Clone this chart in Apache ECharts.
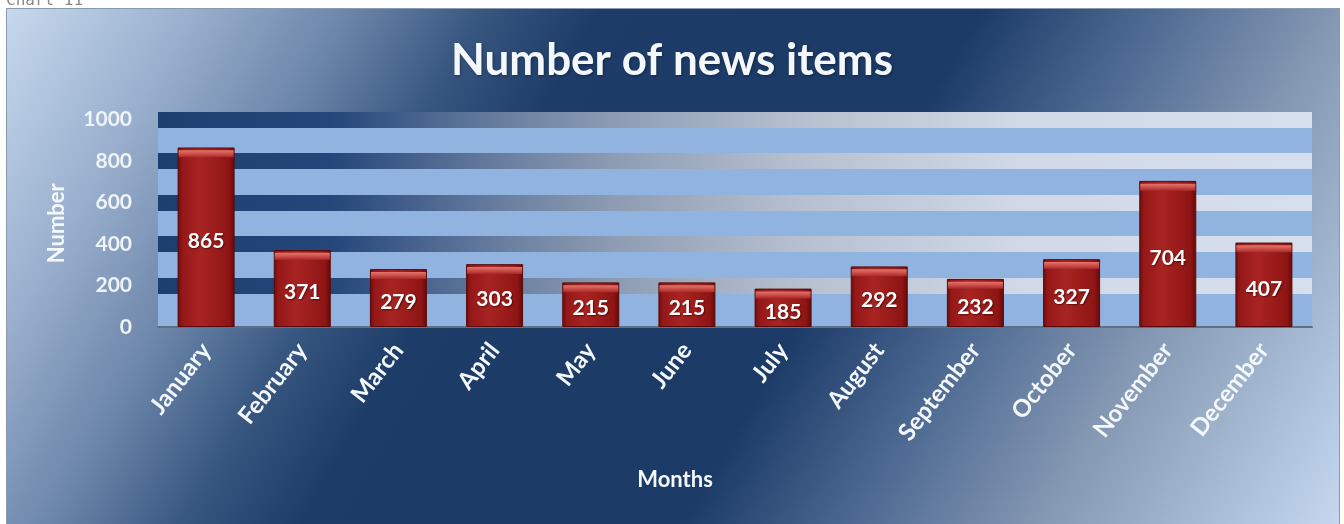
<!DOCTYPE html>
<html>
<head>
<meta charset="utf-8">
<script src="https://cdn.jsdelivr.net/npm/echarts@6/dist/echarts.min.js"></script>
<style>
html,body{margin:0;padding:0;background:#fff;}
#chart{width:1344px;height:524px;}
</style>
</head>
<body>
<div id="chart"></div>
<script>
var months = ['January','February','March','April','May','June','July','August','September','October','November','December'];
var newsCounts = [865, 371, 279, 303, 215, 215, 185, 292, 232, 327, 704, 407];
var yTicks = [0, 200, 400, 600, 800, 1000];
var chartTitle = 'Number of news items';
var xName = 'Months';
var yName = 'Number';

var chart = echarts.init(document.getElementById('chart'), null, {renderer: 'canvas'});
var FONT = 'Lato';

var bgGrad = {
  type: 'linear', global: true, x: 0, y: 0, x2: 1225, y2: 713,
  colorStops: [
    {offset: 0, color: '#c9dbef'},
    {offset: 0.12, color: '#9ab0ce'},
    {offset: 0.22, color: '#6a84a8'},
    {offset: 0.3, color: '#36557f'},
    {offset: 0.37, color: '#1d3c68'},
    {offset: 0.6, color: '#1b3a66'},
    {offset: 0.7, color: '#4a6790'},
    {offset: 0.82, color: '#8598b3'},
    {offset: 1, color: '#c4d7ef'}
  ]
};

var stripeGrad = {
  type: 'linear', global: true, x: 158, y: 0, x2: 1312, y2: 0,
  colorStops: [
    {offset: 0, color: '#1d3f70'},
    {offset: 0.15, color: '#24467a'},
    {offset: 0.3, color: '#6a7fa0'},
    {offset: 0.4, color: '#8f9db4'},
    {offset: 0.55, color: '#b5bfcf'},
    {offset: 0.75, color: '#d0d9e5'},
    {offset: 1, color: '#d6e0ec'}
  ]
};

var barGrad = {
  type: 'linear', x: 0, y: 0, x2: 1, y2: 0,
  colorStops: [
    {offset: 0, color: '#6e0b0b'},
    {offset: 0.08, color: '#951818'},
    {offset: 0.4, color: '#a82422'},
    {offset: 0.9, color: '#8e1514'},
    {offset: 1, color: '#620a0a'}
  ]
};

var bevelGrad = {
  type: 'linear', x: 0, y: 0, x2: 0, y2: 1,
  colorStops: [
    {offset: 0, color: '#e2776e'},
    {offset: 0.5, color: '#cc4f48'},
    {offset: 1, color: '#a8292a'}
  ]
};

var option = {
  backgroundColor: '#ffffff',
  animation: false,
  graphic: [
    {
      type: 'rect', z: -10, silent: true,
      shape: {x: 6.5, y: 8.5, width: 1333, height: 520},
      style: {fill: bgGrad, stroke: '#8a99ae', lineWidth: 1}
    },
    {
      type: 'text', z: -5, silent: true, left: 6, top: -7,
      style: {text: 'Chart 11', fill: '#8a8a8a', font: '16px "DejaVu Sans Mono"'}
    }
  ],
  title: {
    text: chartTitle,
    left: 'center',
    top: 34,
    textStyle: {
      color: '#f4f8fc', fontFamily: FONT, fontWeight: 'bold', fontSize: 44,
      textShadowColor: 'rgba(0,0,0,0.35)', textShadowBlur: 3, textShadowOffsetX: 1, textShadowOffsetY: 1
    }
  },
  grid: {
    left: 158, right: 32, top: 119.5, bottom: 197,
    show: true, backgroundColor: '#90b3df', borderWidth: 0
  },
  xAxis: {
    type: 'category',
    data: months,
    name: xName,
    nameLocation: 'middle',
    nameGap: 142,
    nameTextStyle: {
      color: '#f4f8fc', fontFamily: FONT, fontWeight: 'bold', fontSize: 22,
      padding: [0, 120, 0, 0], verticalAlign: 'top'
    },
    axisLine: {show: true, lineStyle: {color: '#5e6f86', width: 2}},
    axisTick: {show: false},
    axisLabel: {
      rotate: 52, margin: 19, interval: 0,
      color: '#f4f8fc', fontFamily: FONT, fontWeight: 'bold', fontSize: 24
    }
  },
  yAxis: {
    type: 'value',
    min: yTicks[0],
    max: yTicks[yTicks.length - 1],
    interval: yTicks[1] - yTicks[0],
    name: yName,
    nameLocation: 'middle',
    nameGap: 90,
    nameTextStyle: {color: '#f4f8fc', fontFamily: FONT, fontWeight: 'bold', fontSize: 22},
    axisLine: {show: false},
    axisTick: {show: false},
    axisLabel: {
      margin: 26, color: '#f0f4f9', fontFamily: FONT, fontWeight: 'bold', fontSize: 21,
      formatter: function (v) { return String(v); }
    },
    splitLine: {show: true, showMinLine: false, lineStyle: {color: stripeGrad, width: 16}}
  },
  series: [
    {
      type: 'bar',
      data: newsCounts,
      barWidth: 57,
      z: 3,
      itemStyle: {color: barGrad, borderColor: '#5a0a0a', borderWidth: 1},
      label: {
        show: true, position: 'inside', offset: [0, 4],
        color: '#ffffff', fontFamily: FONT, fontWeight: 'bold', fontSize: 21,
        textShadowColor: 'rgba(60,0,0,0.7)', textShadowBlur: 2, textShadowOffsetX: 1, textShadowOffsetY: 1
      }
    },
    {
      type: 'pictorialBar',
      data: newsCounts,
      barGap: '-100%',
      symbol: 'rect',
      symbolSize: [55, 7],
      symbolPosition: 'end',
      symbolOffset: [0, '40%'],
      z: 4,
      silent: true,
      itemStyle: {color: bevelGrad}
    }
  ]
};
chart.setOption(option);
</script>
</body>
</html>
